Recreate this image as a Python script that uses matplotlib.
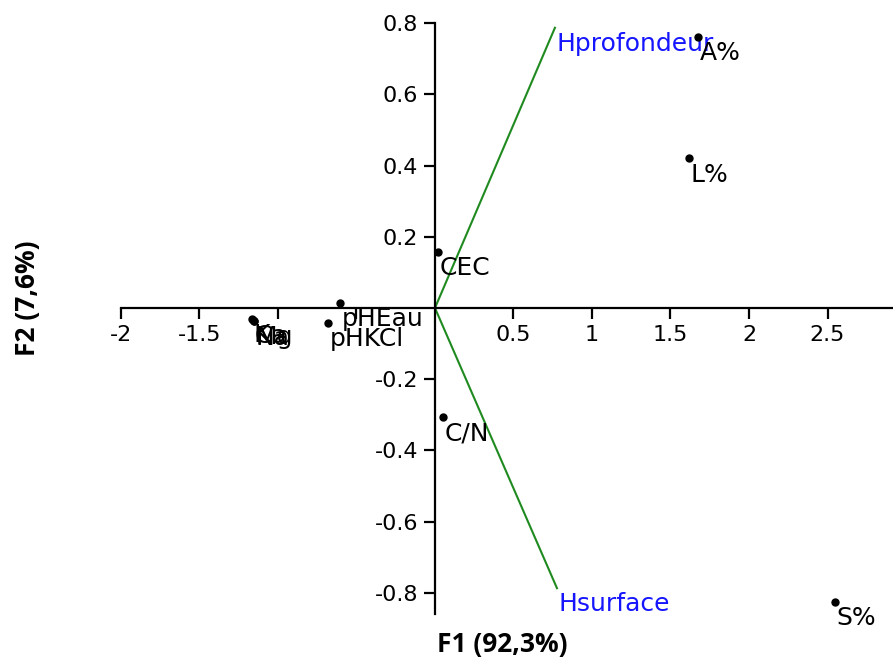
import numpy as np
import matplotlib.pyplot as plt

# variables (observations) in the F1/F2 plane
names = ['A%', 'L%', 'S%', 'CEC', 'C/N', 'pHEau', 'pHKCl', 'K', 'Na', 'Ca', 'Mg']
f1 = [1.675, 1.62, 2.55, 0.02, 0.05, -0.605, -0.68, -1.165, -1.15, -1.16, -1.15]
f2 = [0.761, 0.42, -0.826, 0.157, -0.306, 0.014, -0.042, -0.030, -0.038, -0.034, -0.036]

# horizon vectors
hor_names = ['Hprofondeur', 'Hsurface']
hor_f1 = [0.764, 0.777]
hor_f2 = [0.787, -0.787]

xticks = [-2, -1.5, -1, -0.5, 0.5, 1, 1.5, 2, 2.5]
xtick_labels = ['-2', '-1.5', '', '', '0.5', '1', '1.5', '2', '2.5']
yticks = [-0.8, -0.6, -0.4, -0.2, 0.2, 0.4, 0.6, 0.8]
ytick_labels = ['-0.8', '-0.6', '-0.4', '-0.2', '0.2', '0.4', '0.6', '0.8']

plt.rcParams['font.family'] = ['DejaVu Sans']

fig = plt.figure(figsize=(8.93, 6.64), dpi=100)
ax = fig.add_axes([0, 0, 1, 1])
ax.set_xlim(-2.77, 2.917)
ax.set_ylim(-1.0, 0.865)

for s in ['top', 'right']:
    ax.spines[s].set_visible(False)
ax.spines['left'].set_position(('data', 0))
ax.spines['bottom'].set_position(('data', 0))
ax.spines['left'].set_bounds(-0.86, 0.8)
ax.spines['bottom'].set_bounds(-2, 2.917)
for s in ['left', 'bottom']:
    ax.spines[s].set_linewidth(1.6)

ax.set_xticks(xticks)
ax.set_xticklabels(xtick_labels)
ax.set_yticks(yticks)
ax.set_yticklabels(ytick_labels)
ax.tick_params(axis='both', direction='out', length=8, width=1.6, labelsize=16, pad=4)

for x, y in zip(hor_f1, hor_f2):
    ax.plot([0, x], [0, y], color='#1f8a1f', lw=1.5, zorder=2)
for n, x, y in zip(hor_names, hor_f1, hor_f2):
    ax.annotate(n, (x, y), xytext=(1, -3), textcoords='offset points',
                ha='left', va='top', fontsize=18, color='#1515ff')

ax.plot(f1, f2, 'o', color='black', ms=5, zorder=3)
for n, x, y in zip(names, f1, f2):
    ax.annotate(n, (x, y), xytext=(1, -3), textcoords='offset points',
                ha='left', va='top', fontsize=18, color='black')

fig.text(0.562, 0.029, 'F1 (92,3%)', fontsize=19, fontweight='bold',
         family='Open Sans', ha='center', va='center')
fig.text(0.031, 0.551, 'F2 (7,6%)', fontsize=19, fontweight='bold',
         family='Open Sans', ha='center', va='center', rotation=90)

fig.savefig('out.png', dpi=100)
